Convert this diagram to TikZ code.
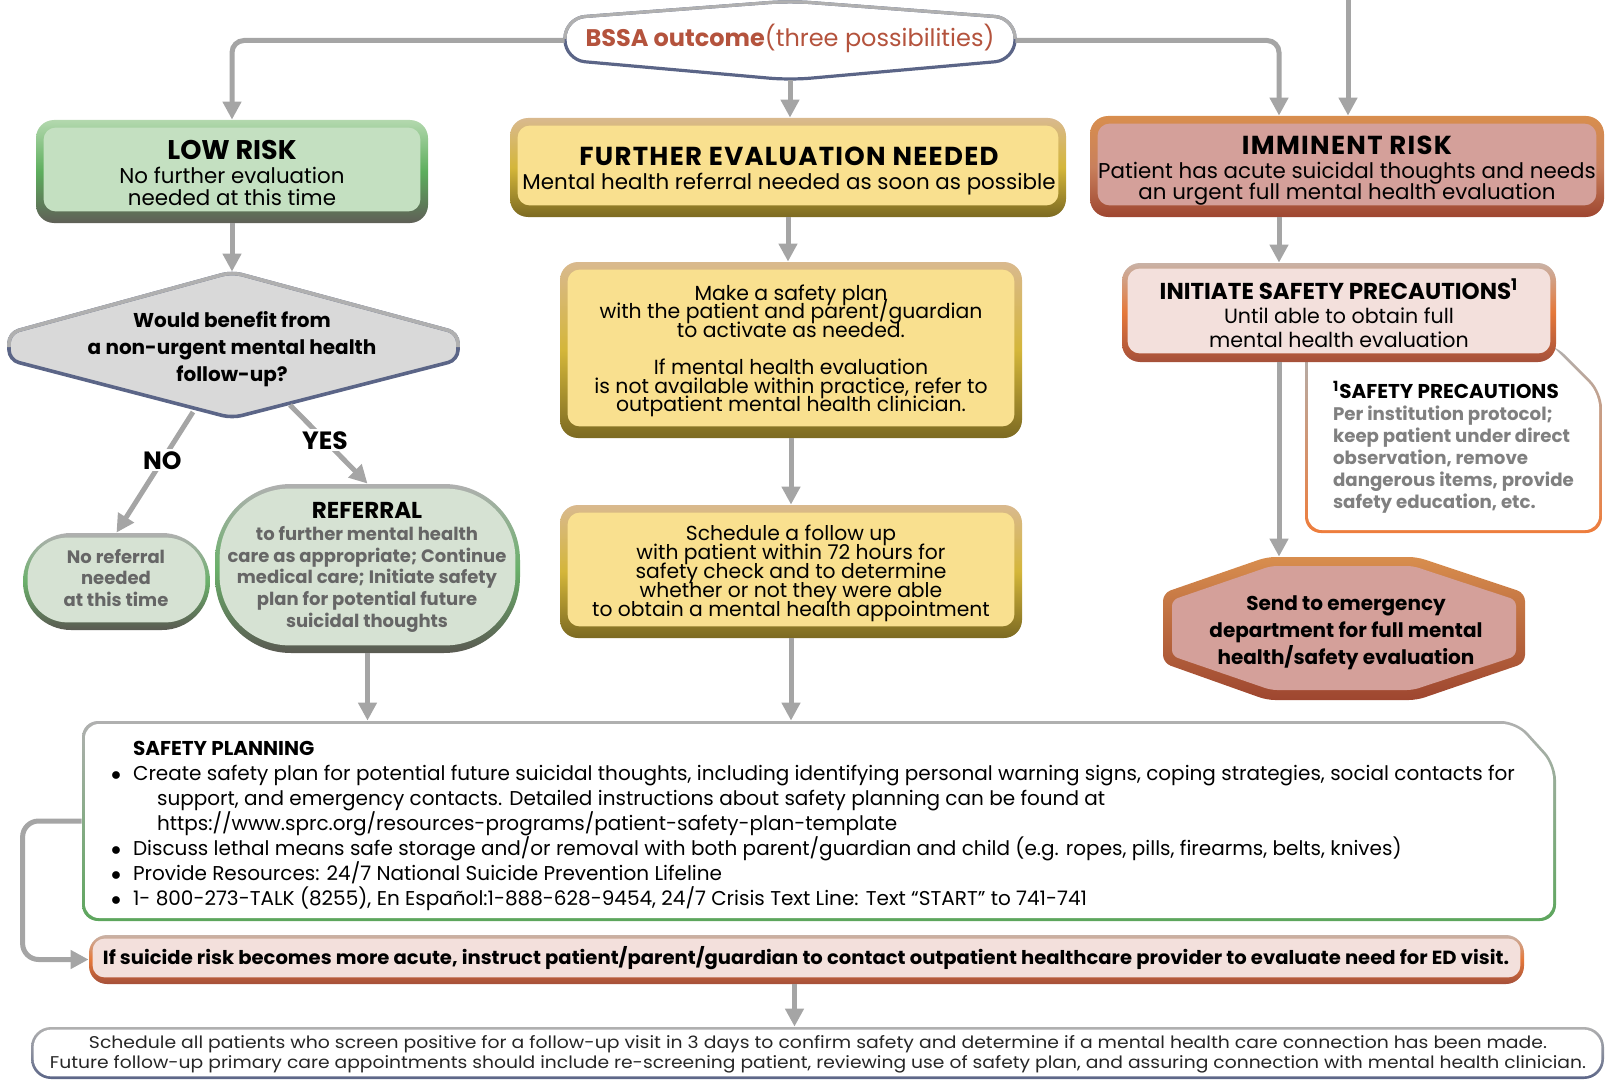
\documentclass[tikz,border=0pt]{standalone}
\usepackage{fontspec}
\setmainfont{Poppins}
\usepackage{graphicx}
\usetikzlibrary{arrows.meta,fit,positioning}
\lineskiplimit=-20pt

\definecolor{arrowgrey}{HTML}{A5A5A5}
\definecolor{bssared}{HTML}{B4533D}
\definecolor{slate}{HTML}{5B6587}
\definecolor{rimgrey}{HTML}{B0B0B0}
\definecolor{lowfill}{HTML}{C4E0C1}
\definecolor{lowtop}{HTML}{B3D8AE}
\definecolor{lowmid}{HTML}{5DAE5D}
\definecolor{lowbot}{HTML}{5F5F57}
\definecolor{evalfill}{HTML}{F9E08F}
\definecolor{evaltop}{HTML}{D9B98E}
\definecolor{evalmid}{HTML}{D4B63A}
\definecolor{evalbot}{HTML}{7C6A22}
\definecolor{riskfill}{HTML}{D4A09A}
\definecolor{risktop}{HTML}{D88E4E}
\definecolor{riskmid}{HTML}{C9805C}
\definecolor{riskbot}{HTML}{9E4630}
\definecolor{pinkfill}{HTML}{F3E0DC}
\definecolor{pinktop}{HTML}{C9B2A6}
\definecolor{pinkmid}{HTML}{E5783A}
\definecolor{pinkbot}{HTML}{A5503A}
\definecolor{sagefill}{HTML}{D6E2D3}
\definecolor{sagemid}{HTML}{6AB06A}
\definecolor{sagebot}{HTML}{5A5A52}
\definecolor{diafill}{HTML}{D9D9D9}
\definecolor{greytext}{HTML}{666666}
\definecolor{notetext}{HTML}{808080}
\definecolor{noteorange}{HTML}{EE7D3C}
\definecolor{plangreen}{HTML}{5DA65D}
\definecolor{edtan}{HTML}{DDB07C}

% inner face of a framed box: node, colour, radius, inset, bottom inset
\newcommand{\boxface}[5]{%
  \fill[#2, rounded corners=#3] ([shift={(#4,#4)}]#1.north west) rectangle ([shift={(-#4,-#5)}]#1.south east);}
\newcommand{\spaced}[1]{{\addfontfeature{LetterSpace=5}#1}}
\newcommand{\dotitem}{\makebox[11pt][l]{$\bullet$}}

\begin{document}
\begin{tikzpicture}[x=0.5pt, y=-0.5pt,
  arr/.style={draw=arrowgrey, line width=2.5pt, -{Triangle[length=9pt,width=9pt]}},
  rim/.style n args={3}{top color=#1, bottom color=#3, middle color=#2, draw=none, inner sep=0pt},
  lbl/.style={fill=white, font=\bfseries\fontsize{12.5}{13}\selectfont, inner sep=1pt},
  body/.style={align=center, font=\fontsize{10.7}{10.8}\selectfont},
  title/.style={font=\fontsize{13}{14}\selectfont\bfseries}]
\useasboundingbox (0,0) rectangle (1607,1081);

% outcome at the top
\fill[white, rounded corners=10pt] (790,1) -- (1015,18) -- (1015,60) -- (790,80) -- (565,60) -- (565,18) -- cycle;
\draw[slate, line width=1.6pt, rounded corners=10pt] (790,1) -- (1015,18) -- (1015,60) -- (790,80) -- (565,60) -- (565,18) -- cycle;
\draw[rimgrey, line width=1.6pt, rounded corners=10pt] (565,39) -- (565,18) -- (790,1) -- (1015,18) -- (1015,39);
\node[fit={(565,1) (1015,80)}, inner sep=0pt] (bssa) {};
\node[font=\fontsize{12}{12}\selectfont, text=bssared] (bssa-t) at (790,38) {\textbf{BSSA outcome}(three possibilities)};

% three outcome boxes
\node[rim={lowtop}{lowmid}{lowbot}, rounded corners=9pt, fit={(36,120) (428,223)}] (low) {};
\boxface{low}{lowfill}{6pt}{8}{12}
\node[body] (low-t) at (232,173) {{\fontsize{13.5}{14}\selectfont\bfseries LOW RISK}\\[1pt]No further evaluation\\needed at this time};

\node[rim={evaltop}{evalmid}{evalbot}, rounded corners=9pt, fit={(510,118) (1066,217)}] (further) {};
\boxface{further}{evalfill}{6pt}{8}{12}
\node[body] (further-t) at (789,171) {{\fontsize{13}{14}\selectfont\bfseries\spaced{FURTHER EVALUATION NEEDED}}\\[1.5pt]Mental health referral needed as soon as possible};

\node[rim={risktop}{riskmid}{riskbot}, rounded corners=9pt, fit={(1090,116) (1604,217)}] (imminent) {};
\boxface{imminent}{riskfill}{6pt}{8}{12}
\node[body] (imminent-t) at (1347,171) {{\fontsize{13}{14}\selectfont\bfseries\spaced{IMMINENT RISK}}\\[1pt]Patient has acute suicidal thoughts and needs\\an urgent full mental health evaluation};

% low risk branch
\fill[diafill, rounded corners=5pt] (232,272) -- (458,333) -- (458,360) -- (232,418) -- (9,360) -- (9,333) -- cycle;
\draw[slate, line width=1.8pt, rounded corners=5pt] (232,272) -- (458,333) -- (458,360) -- (232,418) -- (9,360) -- (9,333) -- cycle;
\draw[rimgrey, line width=1.8pt, rounded corners=5pt] (9,347) -- (9,333) -- (232,272) -- (458,333) -- (458,347);
\node[fit={(9,272) (458,418)}, inner sep=0pt] (decision) {};
\node[align=center, font=\fontsize{10}{13.4}\selectfont\bfseries] (decision-t) at (232,349) {Would benefit from\\a non-urgent mental health\\follow-up?};

\node[rim={rimgrey}{sagemid}{sagebot}, rounded corners=24pt, fit={(23,533) (210,630)}] (noref) {};
\boxface{noref}{sagefill}{20pt}{5}{8}
\node[align=center, text=greytext, font=\fontsize{9}{10.8}\selectfont\bfseries] (noref-t) at (116,578) {No referral\\needed\\at this time};

\node[rim={rimgrey}{sagemid}{sagebot}, rounded corners=38pt, fit={(215,484) (520,653)}] (referral) {};
\boxface{referral}{sagefill}{35pt}{5}{8}
\node[align=center, text=greytext, font=\fontsize{9}{10.8}\selectfont\bfseries] (referral-t) at (367,567) {{\color{black}\fontsize{11.5}{12}\selectfont REFERRAL}\\[0.5pt]to further mental health\\care as appropriate; Continue\\medical care; Initiate safety\\plan for potential future\\suicidal thoughts};

% further evaluation branch
\node[rim={evaltop}{evalmid}{evalbot}, rounded corners=9pt, fit={(560,262) (1022,438)}] (plan) {};
\boxface{plan}{evalfill}{6pt}{8}{12}
\node[align=center, font=\fontsize{10.2}{9.3}\selectfont] (plan-t) at (791,351) {Make a safety plan\\with the patient and parent/guardian\\to activate as needed.\\[9.3pt]If mental health evaluation\\is not available within practice, refer to\\outpatient mental health clinician.};

\node[rim={evaltop}{evalmid}{evalbot}, rounded corners=9pt, fit={(560,505) (1022,638)}] (follow) {};
\boxface{follow}{evalfill}{6pt}{8}{12}
\node[align=center, font=\fontsize{10.15}{9.5}\selectfont] (follow-t) at (791,573) {Schedule a follow up\\with patient within 72 hours for\\safety check and to determine\\whether or not they were able\\to obtain a mental health appointment};

% imminent risk branch
\shade[top color=rimgrey, middle color=noteorange!75!rimgrey, bottom color=noteorange, rounded corners=8pt] (1305,343) -- (1553,343) -- (1602,392) -- (1602,533) -- (1305,533) -- cycle;
\fill[white, rounded corners=7pt] (1308,340) -- (1546,340) -- (1599,393) -- (1599,530) -- (1308,530) -- cycle;
\node[anchor=north west, align=left, text=notetext, font=\fontsize{9.1}{11}\selectfont\bfseries] (note-t) at (1326,374) {{\color{black}\fontsize{10}{11}\selectfont\textsuperscript{1}SAFETY PRECAUTIONS}\\Per institution protocol;\\keep patient under direct\\observation, remove\\dangerous items, provide\\safety education, etc.};

\node[rim={pinktop}{pinkmid}{pinkbot}, rounded corners=9pt, fit={(1122,263) (1556,362)}] (initiate) {};
\boxface{initiate}{pinkfill}{6pt}{6}{9}
\node[body, font=\fontsize{10.3}{12}\selectfont] (initiate-t) at (1339,313) {{\fontsize{11.5}{12}\selectfont\bfseries INITIATE SAFETY PRECAUTIONS\textsuperscript{1}}\\Until able to obtain full\\mental health evaluation};

\shade[top color=risktop, middle color=edtan, bottom color=riskbot, rounded corners=4pt] (1267,557) -- (1417,557) -- (1525,593) -- (1525,663) -- (1417,700) -- (1267,700) -- (1163,663) -- (1163,593) -- cycle;
\fill[riskfill, rounded corners=3pt] (1271,566) -- (1413,566) -- (1516,600) -- (1516,656) -- (1413,690) -- (1271,690) -- (1172,656) -- (1172,600) -- cycle;
\node[fit={(1163,557) (1525,700)}, inner sep=0pt] (ed) {};
\node[align=center, font=\fontsize{10}{13.4}\selectfont\bfseries] (ed-t) at (1346,633) {Send to emergency\\department for full mental\\health/safety evaluation};

% safety planning
\shade[top color=rimgrey, middle color=plangreen, bottom color=plangreen, rounded corners=8pt] (82,721) -- (1517,721) -- (1556,764) -- (1556,921) -- (82,921) -- cycle;
\fill[white, rounded corners=7pt] (85,724) -- (1516,724) -- (1553,765) -- (1553,918) -- (85,918) -- cycle;
\node[fit={(82,721) (1556,921)}, inner sep=0pt] (planning) {};
\node[anchor=north west, align=left, font=\fontsize{10}{12.5}\selectfont] (planning-t) at (104,734) {%
\makebox[11pt][l]{}\textbf{SAFETY PLANNING}\\
\dotitem Create safety plan for potential future suicidal thoughts, including identifying personal warning signs, coping strategies, social contacts for\\
\makebox[23pt][l]{}support, and emergency contacts. Detailed instructions about safety planning can be found at\\
\makebox[23pt][l]{}https://www.sprc.org/resources-programs/patient-safety-plan-template\\
\dotitem Discuss lethal means safe storage and/or removal with both parent/guardian and child (e.g. ropes, pills, firearms, belts, knives)\\
\dotitem Provide Resources: 24/7 National Suicide Prevention Lifeline\\
\dotitem 1- 800-273-TALK (8255), En Español:1-888-628-9454, 24/7 Crisis Text Line: Text “START” to 741-741};

\node[rim={pinktop}{pinkmid}{pinkbot}, rounded corners=9pt, fit={(89,935) (1524,984)}] (acute) {};
\boxface{acute}{pinkfill}{6pt}{4}{7}
\node[font=\fontsize{9.5}{10}\selectfont\bfseries] (acute-t) at (806,958) {\resizebox{703pt}{\height}{If suicide risk becomes more acute, instruct patient/parent/guardian to contact outpatient healthcare provider to evaluate need for ED visit.}};

\node[rim={rimgrey}{rimgrey!55!slate}{slate}, rounded corners=10pt, fit={(31,1027) (1604,1079)}] (final) {};
\boxface{final}{white}{9pt}{3}{3}
\node[align=center, text=black!85, font=\fontsize{8.5}{10}\selectfont] (final-t) at (818,1054) {\resizebox{729pt}{\height}{Schedule all patients who screen positive for a follow-up visit in 3 days to confirm safety and determine if a mental health care connection has been made.}\\\resizebox{768pt}{\height}{Future follow-up primary care appointments should include re-screening patient, reviewing use of safety plan, and assuring connection with mental health clinician.}};

% connectors
\draw[arr, rounded corners=6pt] (bssa.west) -| (low.north);
\draw[arr, rounded corners=6pt] (bssa.east) -| ([xshift=-34pt]imminent.north);
\coordinate (topin) at (1348,0);
\draw[arr] (topin) -- (topin |- imminent.north);
\draw[arr] (bssa.south) -- (bssa.south |- further.north);
\draw[arr] (low.south) -- (low.south |- decision.north);
\coordinate (no-a) at (193,412);
\coordinate (yes-a) at (290,405);
\draw[arr] (no-a) -- node[lbl, pos=0.4] (no-l) {NO} (noref.north);
\draw[arr] (yes-a) -- node[lbl, pos=0.45] (yes-l) {YES} (referral.north);
\draw[arr] (further.south) -- (further.south |- plan.north);
\draw[arr] (plan.south) -- (plan.south |- follow.north);
\draw[arr] (follow.south) -- (follow.south |- planning.north);
\draw[arr] (referral.south) -- (referral.south |- planning.north);
\draw[arr] ([xshift=-34pt]imminent.south) -- ([xshift=-34pt]imminent.south |- initiate.north);
\draw[arr] ([xshift=-30pt]initiate.south) -- ([xshift=-30pt]initiate.south |- ed.north);
\draw[arr, rounded corners=8pt] (planning.west) -- ++(-59,0) |- (acute.west);
\draw[arr] ([xshift=-6pt]acute.south) -- ([xshift=-6pt]acute.south |- final.north);
\end{tikzpicture}
\end{document}
